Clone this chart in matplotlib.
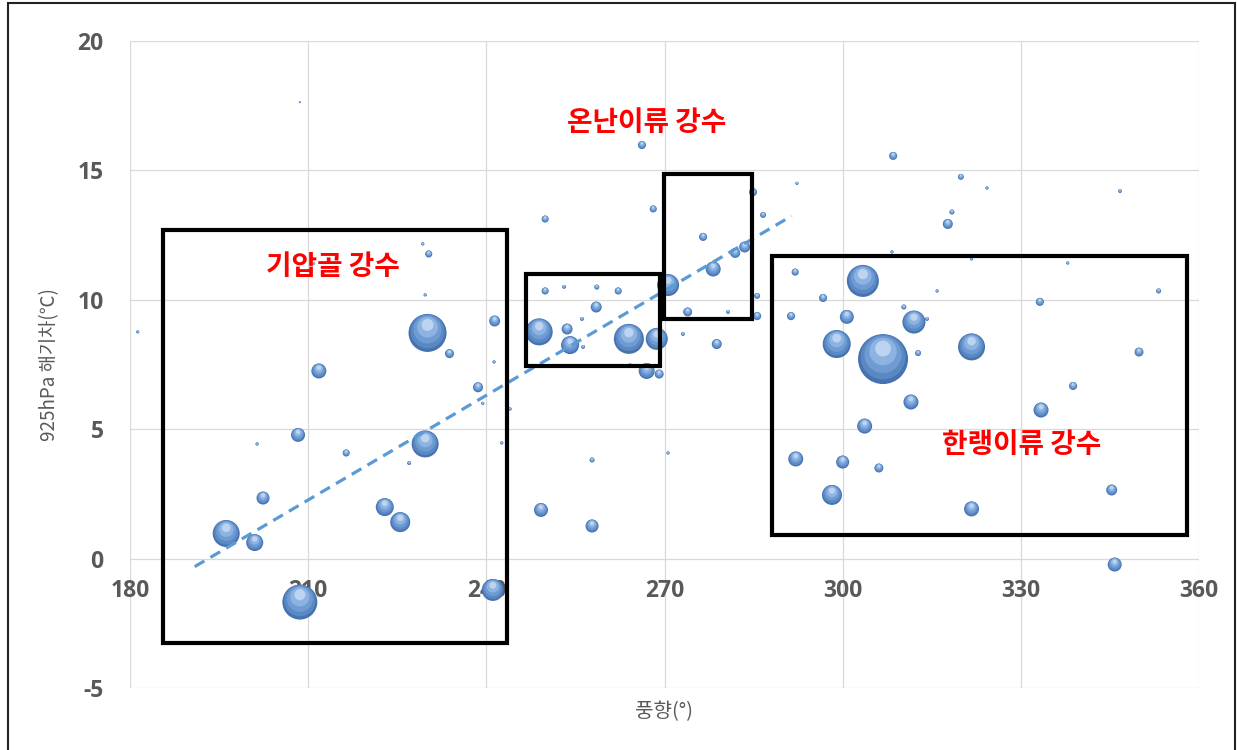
import numpy as np
import matplotlib
matplotlib.use('Agg')
import matplotlib.pyplot as plt
from matplotlib.patches import Rectangle

plt.rcParams['font.family'] = ['Noto Sans CJK KR', 'DejaVu Sans']
plt.rcParams['axes.unicode_minus'] = False

# 풍향(°), 925hPa 해기차(℃), 강수량(버블 크기)
wind_dir = [
    181.3, 208.6, 211.0, 211.8, 208.3, 201.4, 216.4, 227.0, 202.4, 222.9,
    225.5, 196.2, 201.0, 208.6, 229.7, 230.1, 233.8, 238.6, 239.4, 229.3,
    230.3, 229.7, 241.4, 241.3, 249.9, 249.9, 253.1, 258.6, 262.2, 258.5,
    256.1, 248.9, 253.6, 254.1, 256.3, 264.0, 268.7, 267.0, 269.1, 264.2,
    266.2, 268.1, 270.6, 273.1, 278.8, 276.5, 278.2, 273.9, 280.7, 281.9,
    283.5, 284.9, 286.6, 292.3, 285.6, 285.6, 292.0, 291.3, 296.7, 257.8,
    249.2, 257.8, 270.6, 244.0, 242.6, 241.1, 292.1, 308.5, 319.9, 324.3,
    346.7, 318.4, 317.7, 308.3, 321.7, 337.9, 315.9, 353.2, 303.4, 300.7,
    310.3, 312.0, 314.2, 333.2, 299.0, 306.8, 312.7, 321.7, 349.9, 338.8,
    311.5, 333.4, 303.7, 300.0, 306.1, 298.2, 321.7, 345.3, 345.8,
]
temp_diff = [
    8.76, 17.64, 11.4, 7.25, 4.78, 4.43, 4.08, 3.69, 2.34, 1.99,
    1.41, 0.97, 0.62, -1.68, 4.43, 8.72, 7.92, 6.62, 6.0, 12.16,
    11.77, 10.19, 9.18, 7.6, 13.12, 10.34, 10.5, 10.49, 10.34, 9.72,
    9.26, 8.76, 8.87, 8.25, 8.18, 8.49, 8.49, 7.25, 7.13, 7.48,
    15.98, 13.51, 10.57, 8.68, 8.29, 12.43, 11.19, 9.53, 9.53, 11.81,
    12.04, 14.16, 13.28, 14.5, 10.15, 9.37, 11.07, 9.37, 10.07, 3.81,
    1.88, 1.26, 4.08, 5.78, 4.47, -1.21, 3.85, 15.56, 14.75, 14.32,
    14.2, 13.39, 12.93, 11.85, 11.58, 11.42, 10.34, 10.34, 10.73, 9.34,
    9.72, 9.14, 9.26, 9.92, 8.29, 7.71, 7.94, 8.18, 7.98, 6.67,
    6.05, 5.74, 5.12, 3.73, 3.50, 2.46, 1.92, 2.65, -0.23,
]
precip = [
    0.2, 0.1, 0.1, 4.5, 3.9, 0.2, 1.0, 0.3, 3.4, 6.5,
    8.0, 14.6, 5.8, 24.5, 14.6, 28.9, 1.6, 2.0, 0.2, 0.2,
    1.0, 0.2, 2.4, 0.2, 1.0, 1.0, 0.3, 0.5, 1.0, 2.4,
    0.3, 14.6, 2.4, 6.5, 0.3, 18.0, 9.7, 5.1, 1.6, 0.2,
    1.3, 1.0, 9.7, 0.3, 2.0, 1.3, 4.5, 1.6, 0.3, 2.0,
    2.4, 1.3, 0.7, 0.2, 0.7, 1.3, 1.0, 1.3, 1.3, 0.5,
    3.9, 3.4, 0.2, 0.2, 0.2, 9.7, 4.5, 1.3, 0.7, 0.2,
    0.3, 0.5, 2.0, 0.2, 0.2, 0.2, 0.2, 0.5, 20.5, 3.9,
    0.5, 10.6, 0.3, 1.3, 15.7, 50.0, 0.7, 14.6, 1.6, 1.3,
    4.5, 4.5, 4.5, 3.4, 1.6, 8.0, 4.5, 2.4, 3.9,
]

# 추세선 양 끝점
trend_x = [190.9, 291.4]
trend_y = [-0.31, 13.24]

# 강수 유형 구역 (x0, x1, y0, y1)
box_trough = (185.6, 243.5, -3.26, 12.7)
box_warm_mid = (246.7, 269.2, 7.44, 11.0)
box_warm_top = (269.9, 284.7, 9.26, 14.86)
box_cold = (288.1, 358.0, 0.91, 11.69)

labels = [
    ('기압골 강수', 214.2, 11.27),
    ('온난이류 강수', 267.0, 16.83),
    ('한랭이류 강수', 330.2, 4.39),
]

x_ticks = [180, 210, 240, 270, 300, 330, 360]
y_ticks = [-5, 0, 5, 10, 15, 20]

W, H, DPI = 1237, 750, 100
fig = plt.figure(figsize=(W / DPI, H / DPI), dpi=DPI)
ax_left, ax_bottom, ax_w, ax_h = 130, 62, 1069, 647
ax = fig.add_axes([ax_left / W, ax_bottom / H, ax_w / W, ax_h / H])

ax.set_xlim(180, 360)
ax.set_ylim(-5, 20)
ax.set_xticks(x_ticks)
ax.set_yticks(y_ticks)
ax.grid(True, color='#d9d9d9', lw=0.9, zorder=0)
ax.set_axisbelow(True)
for side in ['top', 'right', 'left']:
    ax.spines[side].set_visible(False)
ax.spines['bottom'].set_position(('data', 0))
ax.spines['bottom'].set_visible(False)
ax.tick_params(axis='x', length=0, pad=15, labelcolor='#595959')
ax.tick_params(axis='y', length=0, pad=19, labelcolor='#595959')
for lab in ax.get_xticklabels() + ax.get_yticklabels():
    lab.set_fontweight('bold')
    lab.set_fontsize(16.5)
    lab.set_family(['Open Sans', 'DejaVu Sans'])

# 구형 버블: 바탕 원 위에 밝은 원을 겹쳐 음영 표현
xs = np.array(wind_dir)
ys = np.array(temp_diff)
sizes = np.array(precip) * 25.92
r_data = np.sqrt(sizes) / 2 * DPI / 72 / (ax_h / 25.0)
layers = [
    (1.00, 0.00, '#4673b0'),
    (0.80, 0.08, '#5a88c4'),
    (0.55, 0.18, '#6f9bd3'),
    (0.30, 0.30, '#8db3e2'),
    (0.10, 0.42, '#bcd4f0'),
]
for k, (scale, shift, col) in enumerate(layers):
    ax.scatter(xs, ys + shift * r_data, s=sizes * scale, color=col,
               linewidths=0, zorder=3 + k * 0.1)

ax.plot(trend_x, trend_y, color='#5b9bd5', lw=2.3, ls=(0, (3.5, 2.2)), zorder=5)

for x0, x1, y0, y1 in [box_trough, box_warm_mid, box_warm_top, box_cold]:
    ax.add_patch(Rectangle((x0, y0), x1 - x0, y1 - y0, fill=False,
                           ec='black', lw=3, zorder=6))

for text, tx, ty in labels:
    ax.text(tx, ty, text, color='#ff0000', fontsize=20, fontweight='bold',
            ha='center', va='center', zorder=7)

ax.set_xlabel('풍향(°)', fontsize=14.5, color='#595959', va='center')
ax.xaxis.set_label_coords(0.5, -0.037)
ax.set_ylabel('925hPa 해기차(℃)', fontsize=13.5, color='#595959', va='center')
ax.yaxis.set_label_coords(-0.075, 0.5)

# 바깥 테두리
fig.add_artist(Rectangle((8 / W, -0.01), 1227 / W, 1 - 3 / H + 0.01,
                         transform=fig.transFigure, fill=False,
                         ec='#222222', lw=1.5))

fig.savefig('out.png', dpi=DPI)
